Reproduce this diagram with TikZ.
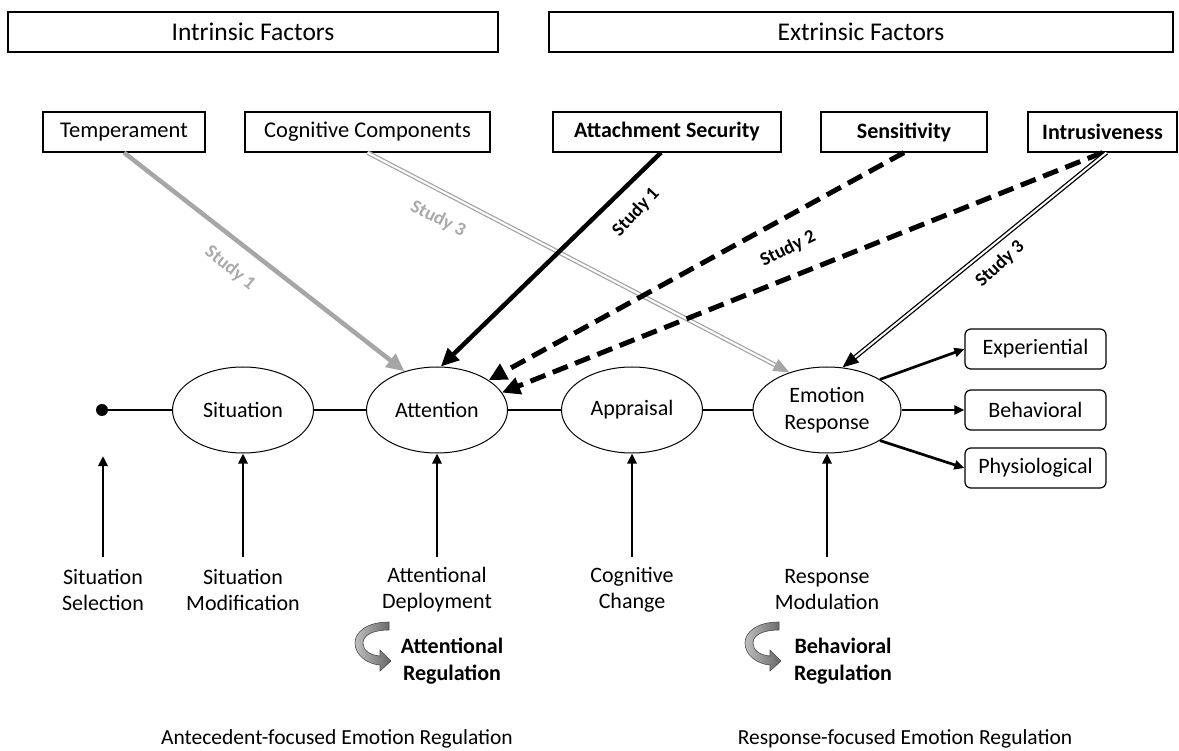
\documentclass[tikz,border=0pt]{standalone}
\usepackage{fontspec}
\setmainfont{Carlito}
\usetikzlibrary{shapes.geometric,arrows.meta}
\definecolor{lg}{RGB}{166,166,166}
\definecolor{lgt}{RGB}{170,170,170}
\begin{document}
\begin{tikzpicture}[x=1pt,y=-1pt,
  hbox/.style={draw, line width=1.2pt, minimum height=40pt, inner sep=0pt, font=\fontsize{25.5}{30}\selectfont},
  fbox/.style={draw, line width=1.2pt, minimum height=40pt, inner sep=0pt, font=\fontsize{22.5}{26}\selectfont},
  bfbox/.style={fbox, font=\fontsize{22}{26}\selectfont\bfseries},
  ell/.style={draw, ellipse, line width=1pt, minimum width=141pt, minimum height=86pt, inner sep=0pt, align=center, font=\fontsize{22}{27}\selectfont},
  rbox/.style={draw, rounded corners=6pt, line width=1.2pt, minimum width=141pt, minimum height=40pt, inner sep=0pt, font=\fontsize{22}{26}\selectfont},
  lbl/.style={align=center, font=\fontsize{22}{26}\selectfont, inner sep=0pt},
  blbl/.style={align=center, font=\fontsize{22}{27}\selectfont\bfseries, inner sep=0pt},
  study/.style={font=\fontsize{19}{22}\selectfont\bfseries, inner sep=0pt},
  link/.style={line width=2.7pt},
  uparrow/.style={line width=2.7pt, -{Triangle[length=10pt,width=9pt]}},
  outarrow/.style={line width=2.7pt, -{Triangle[length=10pt,width=9pt]}},
  bigarrow/.style={line width=4.5pt, -{Triangle[length=18pt,width=16pt]}},
  dasharrow/.style={line width=5pt, dash pattern=on 16pt off 8pt, -{Triangle[length=18pt,width=17pt]}},
  dblarrow/.style={double, double distance=2pt, line width=1.3pt, -{Triangle[length=16pt,width=13pt]}},
  curl/.pic={\path[draw=black!70, line width=0.6pt, left color=black!25, right color=black!60]
     (34,2) .. controls (12,2) and (0,12) .. (0,23) .. controls (0,35) and (12,44) .. (25,45)
     -- (25,51) -- (36,41) -- (25,30) -- (25,36)
     .. controls (14,35) and (8,30) .. (8,23) .. controls (8,15) and (18,10) .. (34,10) -- cycle;}
]
\useasboundingbox (0,0) rectangle (1179,751);

% headers
\node[hbox, minimum width=490pt] (intr) at (253,32) {Intrinsic Factors};
\node[hbox, minimum width=624pt] (extr) at (861,32) {Extrinsic Factors};

% factor boxes
\node[fbox, minimum width=162pt] (temp) at (124,132) {Temperament};
\node[fbox, minimum width=245pt] (cog) at (367.5,132) {Cognitive Components};
\node[bfbox, minimum width=228pt] (att) at (667,132) {Attachment Security};
\node[bfbox, minimum width=166pt] (sen) at (904,132) {Sensitivity};
\node[bfbox, minimum width=149pt] (intru) at (1102.5,132) {Intrusiveness};

% process row
\node[circle, fill, inner sep=0pt, minimum size=12pt] (dot) at (102,410) {};
\node[ell] (sit) at (243,410) {Situation};
\node[ell] (atn) at (437,410) {Attention};
\node[ell] (app) at (632,410) {Appraisal};
\node[ell, minimum width=148pt] (emo) at (827,410) {Emotion\\Response};

\draw[link] (dot) -- (sit);
\draw[link] (sit) -- (atn);
\draw[link] (atn) -- (app);
\draw[link] (app) -- (emo);

% response boxes
\node[rbox] (exp) at (1035.5,349) {Experiential};
\node[rbox] (beh) at (1035.5,410) {Behavioral};
\node[rbox] (phy) at (1035.5,468) {Physiological};
\draw[outarrow] (emo.30) -- (exp.west);
\draw[outarrow] (emo.east) -- (beh.west);
\draw[outarrow] (emo.-30) -- (phy.west);

% strategy labels
\node[lbl] (ssel) at (103,590) {Situation\\Selection};
\node[lbl] (smod) at (243,590) {Situation\\Modification};
\node[lbl] (adep) at (437,590) {Attentional\\Deployment};
\node[lbl] (cchg) at (632,590) {Cognitive\\Change};
\node[lbl] (rmod) at (827,590) {Response\\Modulation};

\coordinate (s0) at (103,557);
\coordinate (s0t) at (103,456);
\coordinate (s1) at (243,557);
\coordinate (s2) at (437,557);
\coordinate (s3) at (632,557);
\coordinate (s4) at (827,557);
\draw[uparrow] (s0) -- (s0t);
\draw[uparrow] (s1) -- (sit.south);
\draw[uparrow] (s2) -- (atn.south);
\draw[uparrow] (s3) -- (app.south);
\draw[uparrow] (s4) -- (emo.south);

% regulation
\pic at (355,620) {curl};
\node[blbl] (areg) at (452,661) {Attentional\\Regulation};
\pic at (745,620) {curl};
\node[blbl] (breg) at (843,661) {Behavioral\\Regulation};

% bottom captions
\node[font=\fontsize{21.5}{26}\selectfont, inner sep=0pt] (ante) at (337,739) {Antecedent-focused Emotion Regulation};
\node[font=\fontsize{21.5}{26}\selectfont, inner sep=0pt] (resp) at (905,739) {Response-focused Emotion Regulation};

% influence arrows
\draw[bigarrow, lg] (temp.south) -- (atn.130);
\draw[dblarrow, lg] (cog.south) -- (emo.135);
\draw[bigarrow] ([xshift=-6pt]att.south) -- (atn.85);
\draw[dasharrow] (sen.south) -- (atn.30);
\draw[dasharrow] (intru.south) -- (atn.15);
\draw[dblarrow] ([xshift=4pt]intru.south) -- (emo.70);

% study labels
\node[study, lgt, rotate=-39] (st1a) at (230,268) {Study 1};
\node[study, lgt, rotate=-27] (st3a) at (438,219) {Study 3};
\node[study, rotate=47] (st1b) at (636,212) {Study 1};
\node[study, rotate=26] (st2) at (788,249) {Study 2};
\node[study, rotate=43] (st3b) at (1000,264) {Study 3};
\end{tikzpicture}
\end{document}
